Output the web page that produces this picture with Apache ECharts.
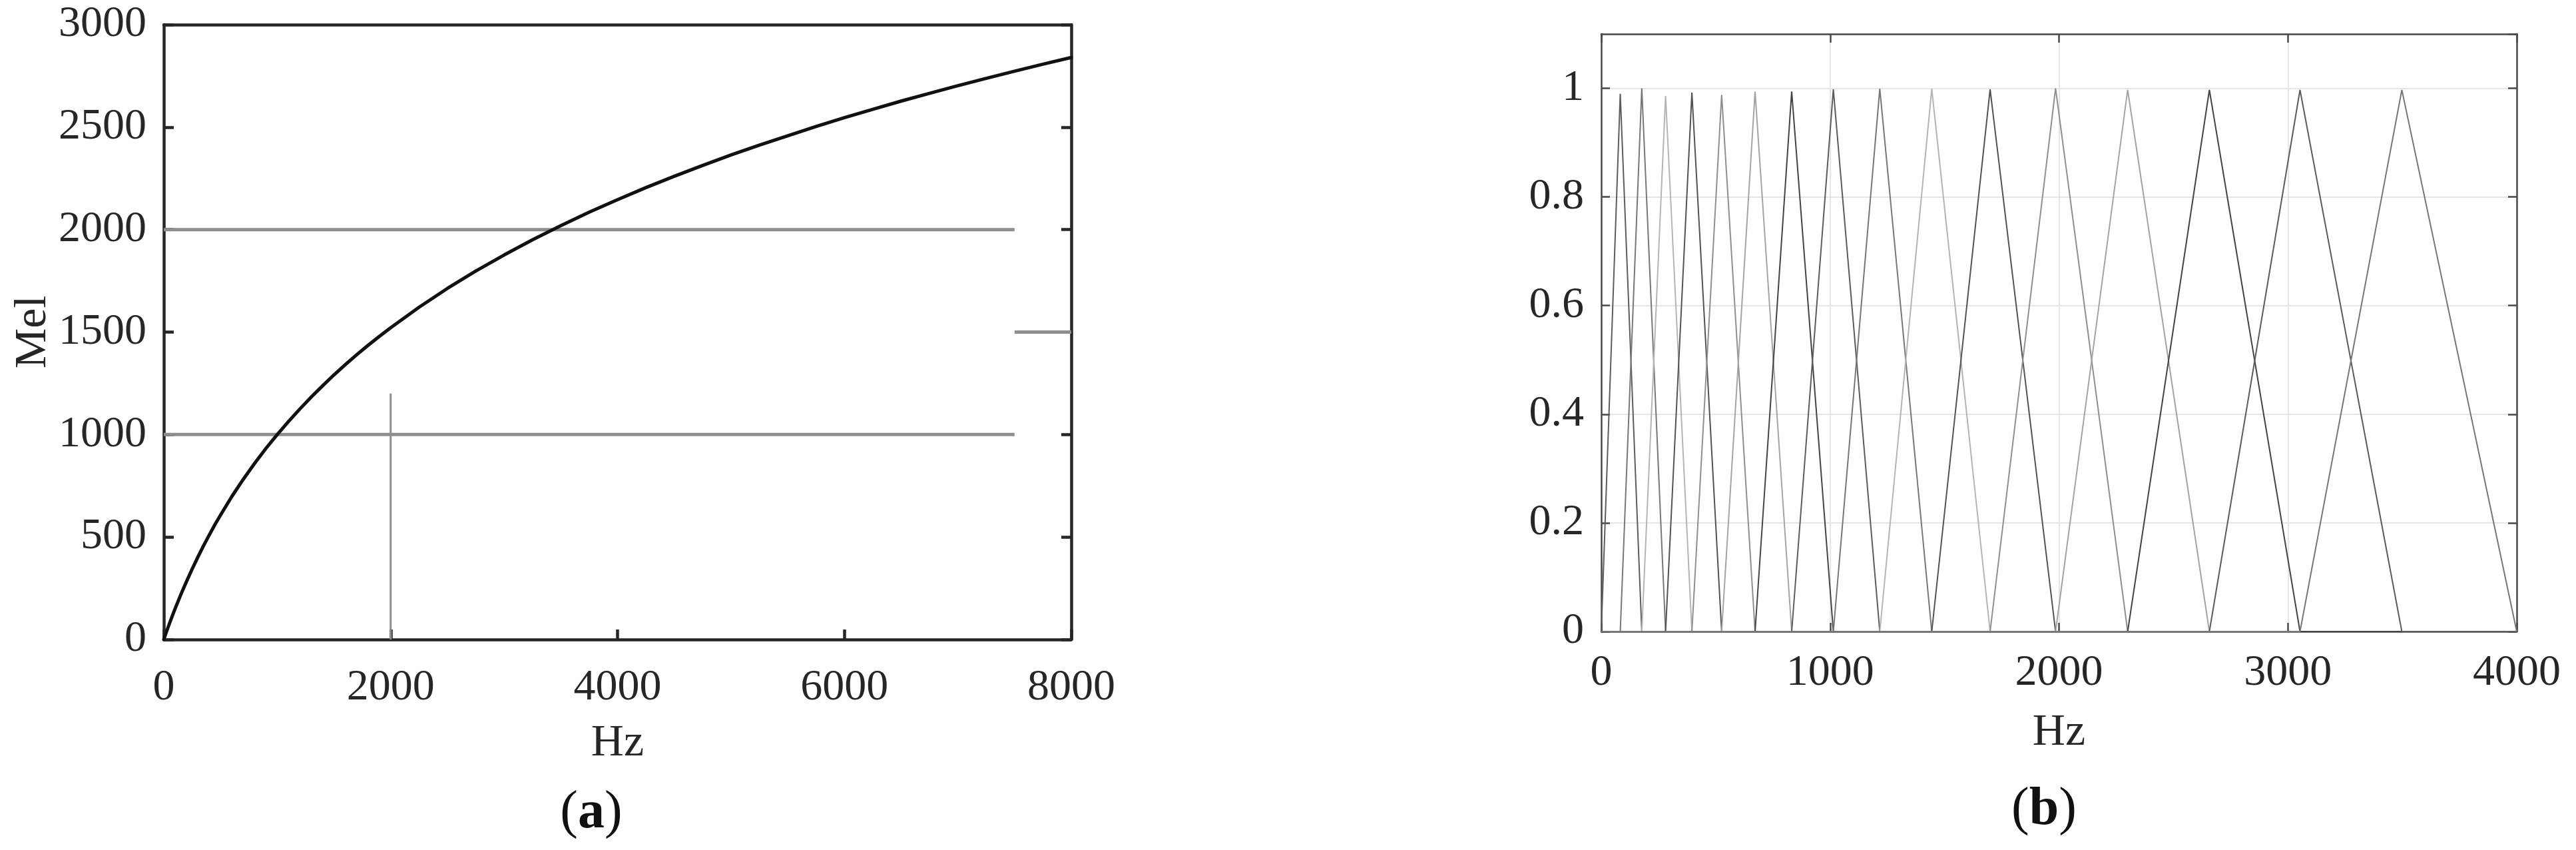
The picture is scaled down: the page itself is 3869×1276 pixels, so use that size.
<!DOCTYPE html>
<html><head><meta charset="utf-8">
<script src="https://cdn.jsdelivr.net/npm/echarts@6/dist/echarts.min.js"></script>
<style>html,body{margin:0;padding:0;background:#fff}#c{width:3869px;height:1276px}</style>
</head><body><div id="c"></div>
<script>
// ---- Panel (a): Hz -> Mel curve ----
const melHz    = [0, 25, 50, 75, 100, 150, 200, 250, 300, 350, 400, 450, 500, 600, 700, 800, 900, 1000, 1100, 1200, 1300, 1400, 1500, 1600, 1700, 1800, 1900, 2000, 2250, 2500, 2750, 3000, 3250, 3500, 3750, 4000, 4250, 4500, 4750, 5000, 5250, 5500, 5750, 6000, 6250, 6500, 6750, 7000, 7250, 7500, 7750, 8000];
const melValue = [0, 40, 78, 115, 151, 219, 283, 344, 402, 457, 509, 560, 607, 698, 781, 859, 932, 1000, 1064, 1125, 1183, 1238, 1291, 1341, 1389, 1435, 1479, 1521, 1621, 1713, 1798, 1876, 1950, 2019, 2085, 2146, 2205, 2260, 2313, 2364, 2412, 2458, 2503, 2546, 2587, 2627, 2665, 2702, 2738, 2773, 2807, 2840];
// gray guide lines
const guideMel2000 = [[0, 2000], [7500, 2000]];
const guideMel1000 = [[0, 1000], [7500, 1000]];
const guideHz2000  = [[2000, 0], [2000, 1200]];
const guideMel1500 = [[7500, 1500], [8000, 1500]];

// ---- Panel (b): triangular mel filter bank ----
const filterEdgesHz  = [0, 83, 177, 281, 396, 526, 672, 832, 1014, 1217, 1444, 1699, 1985, 2300, 2657, 3053, 3498, 4000];
const filterPeakGain = [0.990, 1.000, 0.986, 0.992, 0.988, 0.994, 0.994, 0.998, 0.999, 0.999, 0.998, 1.000, 0.997, 0.997, 0.997, 0.997];

// style (grayscale version of the default line colour cycle)
const shadeCycle = ['#5c5c5c', '#777777', '#b4b4b4', '#525252', '#8f8f8f', '#a4a4a4', '#444444'];
const FONT = '"Liberation Serif", "Times New Roman", serif';
const TXT = '#262626';

const chart = echarts.init(document.getElementById('c'), null, {renderer: 'canvas'});

const curveData = melHz.map((h, i) => [h, melValue[i]]);
const guideStyle = (w) => ({type: 'line', xAxisIndex: 0, yAxisIndex: 0, symbol: 'none', silent: true,
  lineStyle: {color: '#8e8e8e', width: w}, z: 2});

const filterSeries = filterPeakGain.map((g, i) => ({
  type: 'line', xAxisIndex: 2, yAxisIndex: 2, symbol: 'none', silent: true,
  data: [[0, 0], [filterEdgesHz[i], 0], [filterEdgesHz[i + 1], g], [filterEdgesHz[i + 2], 0], [4000, 0]],
  lineStyle: {color: shadeCycle[i % shadeCycle.length], width: 2},
  z: 3
}));

const plain = (v) => String(v);
const labelA = {fontFamily: FONT, fontSize: 66, color: TXT, formatter: plain};

const option = {
  animation: false,
  backgroundColor: '#fff',
  grid: [
    {left: 246, top: 37, width: 1363, height: 923},
    {left: 2405, top: 51, width: 1375, height: 897}
  ],
  xAxis: [
    {gridIndex: 0, type: 'value', position: 'bottom', min: 0, max: 8000, interval: 2000,
     axisLine: {show: true, onZero: false, lineStyle: {color: TXT, width: 4.5}},
     axisTick: {show: true, inside: true, length: 15, lineStyle: {color: TXT, width: 4.5}},
     axisLabel: Object.assign({}, labelA, {margin: 40}), splitLine: {show: false},
     name: 'Hz', nameLocation: 'middle', nameGap: 122,
     nameTextStyle: {fontFamily: FONT, fontSize: 68, color: TXT}},
    {gridIndex: 0, type: 'value', position: 'top', min: 0, max: 8000, interval: 2000,
     axisLine: {show: true, onZero: false, lineStyle: {color: TXT, width: 4.5}},
     axisTick: {show: false}, axisLabel: {show: false}, splitLine: {show: false}},
    {gridIndex: 1, type: 'value', position: 'bottom', min: 0, max: 4000, interval: 1000,
     axisLine: {show: true, onZero: false, lineStyle: {color: '#4a4a4a', width: 2.5}},
     axisTick: {show: true, inside: true, length: 13, lineStyle: {color: '#4a4a4a', width: 2.5}},
     axisLabel: Object.assign({}, labelA, {margin: 30}),
     splitLine: {show: true, lineStyle: {color: '#e6e6e6', width: 2}},
     name: 'Hz', nameLocation: 'middle', nameGap: 118,
     nameTextStyle: {fontFamily: FONT, fontSize: 68, color: TXT}},
    {gridIndex: 1, type: 'value', position: 'top', min: 0, max: 4000, interval: 1000,
     axisLine: {show: true, onZero: false, lineStyle: {color: '#4a4a4a', width: 2.5}},
     axisTick: {show: true, inside: true, length: 13, lineStyle: {color: '#4a4a4a', width: 2.5}},
     axisLabel: {show: false}, splitLine: {show: false}}
  ],
  yAxis: [
    {gridIndex: 0, type: 'value', position: 'left', min: 0, max: 3000, interval: 500,
     axisLine: {show: true, onZero: false, lineStyle: {color: TXT, width: 4.5}},
     axisTick: {show: true, inside: true, length: 15, lineStyle: {color: TXT, width: 4.5}},
     axisLabel: Object.assign({}, labelA, {margin: 26}), splitLine: {show: false},
     name: 'Mel', nameLocation: 'middle', nameGap: 160, nameRotate: 90,
     nameTextStyle: {fontFamily: FONT, fontSize: 68, color: TXT}},
    {gridIndex: 0, type: 'value', position: 'right', min: 0, max: 3000, interval: 500,
     axisLine: {show: true, onZero: false, lineStyle: {color: TXT, width: 4.5}},
     axisTick: {show: true, inside: true, length: 15, lineStyle: {color: TXT, width: 4.5}},
     axisLabel: {show: false}, splitLine: {show: false}},
    {gridIndex: 1, type: 'value', position: 'left', min: 0, max: 1.1, interval: 0.2,
     axisLine: {show: true, onZero: false, lineStyle: {color: '#4a4a4a', width: 2.5}},
     axisTick: {show: true, inside: true, length: 13, lineStyle: {color: '#4a4a4a', width: 2.5}},
     axisLabel: Object.assign({}, labelA, {margin: 26, showMaxLabel: false,
       formatter: (v) => (v > 1.05 ? '' : String(Math.round(v * 10) / 10))}),
     splitLine: {show: true, lineStyle: {color: '#e6e6e6', width: 2}}},
    {gridIndex: 1, type: 'value', position: 'right', min: 0, max: 1.1, interval: 0.2,
     axisLine: {show: true, onZero: false, lineStyle: {color: '#4a4a4a', width: 2.5}},
     axisTick: {show: true, inside: true, length: 13, lineStyle: {color: '#4a4a4a', width: 2.5}},
     axisLabel: {show: false}, splitLine: {show: false}}
  ],
  series: [
    Object.assign(guideStyle(5), {data: guideMel2000}),
    Object.assign(guideStyle(5), {data: guideMel1000}),
    Object.assign(guideStyle(3), {data: guideHz2000}),
    Object.assign(guideStyle(5), {data: guideMel1500}),
    {type: 'line', xAxisIndex: 0, yAxisIndex: 0, symbol: 'none', silent: true,
     smooth: false, data: curveData,
     lineStyle: {color: '#111', width: 5, join: 'round', cap: 'round'}, z: 4}
  ].concat(filterSeries),
  graphic: [
    {type: 'text', x: 888, y: 1221, style: {
      text: '{p|(}{b|a}{p|)}', textAlign: 'center', textVerticalAlign: 'middle',
      rich: {p: {fontFamily: FONT, fontSize: 80, fill: '#111'},
             b: {fontFamily: FONT, fontSize: 80, fontWeight: 'bold', fill: '#111'}}}},
    {type: 'text', x: 3070, y: 1216, style: {
      text: '{p|(}{b|b}{p|)}', textAlign: 'center', textVerticalAlign: 'middle',
      rich: {p: {fontFamily: FONT, fontSize: 80, fill: '#111'},
             b: {fontFamily: FONT, fontSize: 80, fontWeight: 'bold', fill: '#111'}}}}
  ]
};
chart.setOption(option);
</script></body></html>
